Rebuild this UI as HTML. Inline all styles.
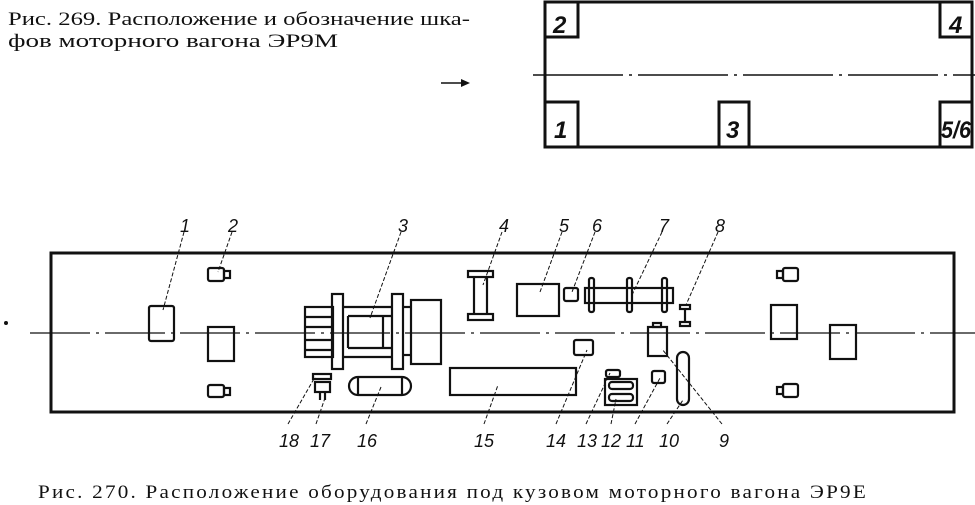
<!DOCTYPE html>
<html><head><meta charset="utf-8"><style>
html,body{margin:0;padding:0;background:#fff;}
svg{display:block;}
text{font-family:"Liberation Sans Narrow","Liberation Sans","DejaVu Sans",sans-serif;fill:#111;}
.n{font-style:italic;font-size:18px;}
.c{font-family:"Liberation Serif","DejaVu Serif",serif;}
.b{font-style:italic;font-size:24px;font-weight:bold;}
</style></head><body>
<svg width="975" height="505" viewBox="0 0 975 505" xmlns="http://www.w3.org/2000/svg">
<g stroke="#111" fill="none">
<!-- Top figure -->
<text x="8" y="25" font-size="19" class="c" stroke="none" textLength="462" lengthAdjust="spacingAndGlyphs">Рис. 269. Расположение и обозначение шка-</text>
<text x="8" y="47" font-size="19" class="c" stroke="none" textLength="330" lengthAdjust="spacingAndGlyphs">фов моторного вагона ЭР9М</text>
<line x1="441" y1="83" x2="466" y2="83" stroke-width="1.5"/>
<path d="M461 79 L470 83 L461 87Z" fill="#111" stroke="none"/>
<rect x="545" y="2" width="427" height="145" stroke-width="3"/>
<line x1="533" y1="75" x2="975" y2="75" stroke-width="1.5" stroke-dasharray="90,6,3,6"/>
<rect x="545" y="2" width="33" height="35" stroke-width="3"/>
<rect x="940" y="2" width="32" height="35" stroke-width="3"/>
<rect x="545" y="102" width="33" height="45" stroke-width="3"/>
<rect x="719" y="102" width="30" height="45" stroke-width="3"/>
<rect x="940" y="102" width="32" height="45" stroke-width="3"/>
<g stroke="none">
<text x="553" y="33" class="b">2</text>
<text x="949" y="33" class="b">4</text>
<text x="554" y="138" class="b">1</text>
<text x="726" y="138" class="b">3</text>
<text x="941" y="138" class="b" font-size="20" textLength="30" lengthAdjust="spacingAndGlyphs">5/6</text>
</g>

<!-- Bottom figure -->
<rect x="51" y="253" width="903" height="159" stroke-width="3"/>
<line x1="30" y1="333" x2="975" y2="333" stroke-width="1.3" stroke-dasharray="60,6,3,6"/>
<circle cx="6" cy="323" r="1.5" fill="#111"/>
<g stroke-width="2.2">
<rect x="149" y="306" width="25" height="35" rx="2"/>
<rect x="208" y="327" width="26" height="34"/>
<rect x="208" y="268" width="16" height="13" rx="2"/><rect x="224" y="271" width="6" height="7"/>
<rect x="208" y="385" width="16" height="12" rx="2"/><rect x="224" y="388" width="6" height="7"/>
<rect x="783" y="268" width="15" height="13" rx="2"/><rect x="777" y="271" width="6" height="7"/>
<rect x="783" y="384" width="15" height="13" rx="2"/><rect x="777" y="387" width="6" height="7"/>
<rect x="771" y="305" width="26" height="34"/>
<rect x="830" y="325" width="26" height="34"/>
<!-- 3 -->
<rect x="305" y="307" width="28" height="50"/>
<line x1="305" y1="317" x2="333" y2="317"/><line x1="305" y1="327" x2="333" y2="327"/><line x1="305" y1="340" x2="333" y2="340"/><line x1="305" y1="350" x2="333" y2="350"/>
<rect x="332" y="294" width="11" height="75"/>
<rect x="392" y="294" width="11" height="75"/>
<rect x="411" y="300" width="30" height="64"/>
<line x1="343" y1="307" x2="392" y2="307"/><line x1="343" y1="357" x2="392" y2="357"/>
<line x1="348" y1="316" x2="392" y2="316"/><line x1="348" y1="348" x2="392" y2="348"/>
<line x1="348" y1="316" x2="348" y2="348"/><line x1="383" y1="316" x2="383" y2="348"/>
<line x1="403" y1="307" x2="411" y2="307"/><line x1="403" y1="355" x2="411" y2="355"/>
<!-- 4 -->
<rect x="468" y="271" width="25" height="6"/><rect x="468" y="314" width="25" height="6"/>
<line x1="474" y1="277" x2="474" y2="314"/><line x1="487" y1="277" x2="487" y2="314"/>
<rect x="517" y="284" width="42" height="32"/>
<rect x="564" y="288" width="14" height="13" rx="2"/>
<rect x="585" y="288" width="88" height="15"/>
<rect x="589" y="278" width="5" height="34" rx="2"/><rect x="627" y="278" width="5" height="34" rx="2"/><rect x="662" y="278" width="5" height="34" rx="2"/>
<rect x="680" y="305" width="10" height="4"/><rect x="680" y="322" width="10" height="4"/><line x1="685" y1="309" x2="685" y2="322"/>
<rect x="648" y="327" width="19" height="29"/><rect x="653" y="323" width="8" height="4"/>
<rect x="677" y="352" width="12" height="53" rx="6"/>
<rect x="652" y="371" width="13" height="12" rx="2"/>
<rect x="606" y="370" width="14" height="7" rx="2"/>
<rect x="605" y="379" width="32" height="26"/>
<rect x="609" y="382" width="24" height="7" rx="3"/><rect x="609" y="394" width="24" height="7" rx="3"/>
<rect x="574" y="340" width="19" height="15" rx="2"/>
<rect x="450" y="368" width="126" height="27"/>
<rect x="349" y="377" width="62" height="18" rx="9"/>
<line x1="358" y1="377" x2="358" y2="395"/><line x1="402" y1="377" x2="402" y2="395"/>
<rect x="313" y="374" width="18" height="5"/><rect x="315" y="382" width="15" height="10"/>
<line x1="320" y1="392" x2="320" y2="400"/><line x1="325" y1="392" x2="325" y2="400"/>
</g>
<!-- leaders -->
<g stroke-width="1" stroke-dasharray="4,2">
<line x1="184" y1="232" x2="163" y2="310"/>
<line x1="232" y1="232" x2="218" y2="272"/>
<line x1="401" y1="232" x2="370" y2="318"/>
<line x1="502" y1="232" x2="483" y2="285"/>
<line x1="562" y1="232" x2="540" y2="292"/>
<line x1="595" y1="232" x2="572" y2="292"/>
<line x1="662" y1="232" x2="632" y2="295"/>
<line x1="718" y1="232" x2="686" y2="305"/>
<line x1="288" y1="424" x2="315" y2="377"/>
<line x1="316" y1="424" x2="325" y2="398"/>
<line x1="366" y1="424" x2="381" y2="387"/>
<line x1="484" y1="424" x2="498" y2="385"/>
<line x1="556" y1="424" x2="587" y2="350"/>
<line x1="586" y1="424" x2="610" y2="373"/>
<line x1="611" y1="424" x2="616" y2="399"/>
<line x1="635" y1="424" x2="660" y2="378"/>
<line x1="667" y1="424" x2="683" y2="400"/>
<line x1="722" y1="424" x2="662" y2="349"/>
</g>
<g stroke="none">
<text x="180" y="232" class="n">1</text><text x="228" y="232" class="n">2</text><text x="398" y="232" class="n">3</text>
<text x="499" y="232" class="n">4</text><text x="559" y="232" class="n">5</text><text x="592" y="232" class="n">6</text>
<text x="659" y="232" class="n">7</text><text x="715" y="232" class="n">8</text>
<text x="279" y="447" class="n">18</text><text x="310" y="447" class="n">17</text><text x="357" y="447" class="n">16</text>
<text x="474" y="447" class="n">15</text><text x="546" y="447" class="n">14</text><text x="577" y="447" class="n">13</text>
<text x="601" y="447" class="n">12</text><text x="626" y="447" class="n">11</text><text x="659" y="447" class="n">10</text>
<text x="719" y="447" class="n">9</text>
<text x="38" y="498" font-size="19" class="c" textLength="830" lengthAdjust="spacingAndGlyphs" letter-spacing="2">Рис. 270. Расположение оборудования под кузовом моторного вагона ЭР9Е</text>
</g>
</g>
</svg>
</body></html>
